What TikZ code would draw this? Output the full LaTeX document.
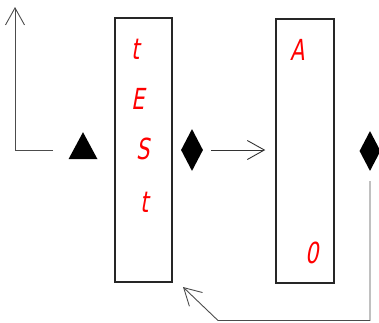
\documentclass[tikz,border=0pt]{standalone}
\usepackage{fontspec}
\usetikzlibrary{shapes.geometric,arrows.meta}
\newfontfamily\segfont[FakeStretch=0.72,FakeSlant=0.18]{DejaVu Sans}
\begin{document}
\begin{tikzpicture}[x=1pt,y=-1pt,
  panel/.style={draw=black!85,line width=1.5pt,minimum width=57pt,inner sep=0pt},
  seg/.style={text=red,font=\segfont\fontsize{29}{29}\selectfont,inner sep=0pt},
  dia/.style={diamond,fill=black,draw=none,inner sep=0pt,minimum width=22pt,minimum height=42pt},
  tri/.style={isosceles triangle,isosceles triangle apex angle=60,shape border rotate=90,fill=black,inner sep=0pt,minimum height=27pt,minimum width=29pt,isosceles triangle stretches},
  conn/.style={draw=black!70,line width=0.9pt},
  tip/.style={-{Straight Barb[length=17pt,width=19pt,line width=0.9pt]}}
]
\useasboundingbox (0,0) rectangle (379,322);
\node[panel,minimum height=264pt] (p1) at (143.5,150) {};
\node[panel,minimum height=264pt,minimum width=58pt] (p2) at (305,151) {};
\node[tri] (tr) at (83,150.5) {};
\node[dia] (d1) at (192,150) {};
\node[dia,minimum width=21pt,minimum height=40pt] (d2) at (370,151) {};
\node[seg] (l1) at (136,49) {t};
\node[seg] (l2) at (138,99) {E};
\node[seg] (l3) at (143,149) {S};
\node[seg] (l4) at (145,202) {t};
\node[seg] (la) at (298,50) {A};
\node[seg] (lo) at (312,253) {0};
\coordinate (ls) at (53,150);
\coordinate (lc) at (15,150);
\coordinate (lt) at (15,7);
\draw[conn,tip] (ls) -- (lc) -- (lt);
\draw[conn,tip,draw=black!80,line width=0.8pt,shorten <=8pt,shorten >=10pt] (d1.east) -- (p2.west |- d1.east);
\coordinate (bs) at (370,181);
\coordinate (bc) at (370,320.5);
\coordinate (bl) at (218,320.5);
\coordinate (bt) at (183,287);
\draw[conn,tip] (bs) -- (bc) -- (bl) -- (bt);
\end{tikzpicture}
\end{document}
